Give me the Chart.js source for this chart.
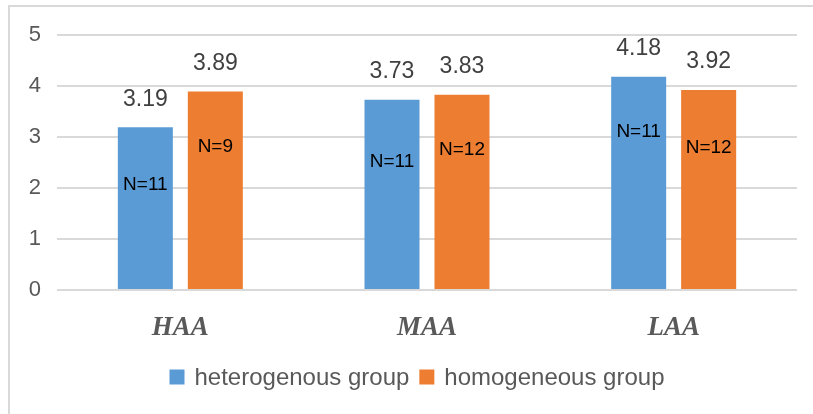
<!DOCTYPE html>
<html>
<head>
<meta charset="utf-8">
<script src="https://cdn.jsdelivr.net/npm/chart.js@4/dist/chart.umd.min.js"></script>
<style>
  html, body { margin: 0; padding: 0; background: #ffffff; }
  #wrap { width: 813px; height: 414px; }
</style>
</head>
<body>
<div id="wrap"><canvas id="chart" width="813" height="414"></canvas></div>
<script>
// Categories and series
const categories = ['HAA', 'MAA', 'LAA'];
const heterogenous = [3.19, 3.73, 4.18];
const homogeneous = [3.89, 3.83, 3.92];
// Group sizes shown inside each bar
const nHeterogenous = [11, 11, 11];
const nHomogeneous = [9, 12, 12];
// Value-axis ticks
const yTicks = [0, 1, 2, 3, 4, 5];

// Where the "N=" notes sit inside the bars, in axis units
const nNoteAtHetero = [2.06, 2.51, 3.11];
const nNoteAtHomo = [2.81, 2.75, 2.79];

const SANS = '"Liberation Sans", Arial, Helvetica, sans-serif';
const SERIF = '"Liberation Serif", "Times New Roman", serif';

// Light frame round the chart plus white background
const framePlugin = {
  id: 'frame',
  beforeDraw(chart) {
    const ctx = chart.ctx;
    ctx.save();
    ctx.fillStyle = '#ffffff';
    ctx.fillRect(0, 0, chart.width, chart.height);
    ctx.strokeStyle = '#d9d9d9';
    ctx.lineWidth = 2;
    ctx.beginPath();
    ctx.moveTo(9, chart.height);
    ctx.lineTo(9, 6);
    ctx.lineTo(chart.width, 6);
    ctx.stroke();
    ctx.restore();
  }
};

// Value above each bar and the N note inside it
const barNotesPlugin = {
  id: 'barNotes',
  afterDatasetsDraw(chart) {
    const ctx = chart.ctx;
    const yScale = chart.scales.y;
    const notes = [
      { counts: nHeterogenous, at: nNoteAtHetero },
      { counts: nHomogeneous, at: nNoteAtHomo }
    ];
    ctx.save();
    ctx.textAlign = 'center';
    ctx.textBaseline = 'middle';
    chart.data.datasets.forEach((ds, di) => {
      const meta = chart.getDatasetMeta(di);
      meta.data.forEach((bar, i) => {
        ctx.font = '23px ' + SANS;
        ctx.fillStyle = '#404040';
        ctx.fillText(ds.data[i].toFixed(2), bar.x, bar.y - 28);
        ctx.font = '19px ' + SANS;
        ctx.fillStyle = '#000000';
        ctx.fillText('N=' + notes[di].counts[i], bar.x, yScale.getPixelForValue(notes[di].at[i]));
      });
    });
    ctx.restore();
  }
};

// Legend row under the axis, centred on the frame
const legendRowPlugin = {
  id: 'legendRow',
  afterDraw(chart) {
    const ctx = chart.ctx;
    const box = 15, gapText = 10, gapItem = 10;
    const centerX = 417, centerY = 377;
    ctx.save();
    ctx.font = '24px ' + SANS;
    ctx.textBaseline = 'middle';
    ctx.textAlign = 'left';
    const items = chart.data.datasets.map(ds => ({
      label: ds.label, color: ds.backgroundColor, w: ctx.measureText(ds.label).width
    }));
    let total = 0;
    items.forEach((it, i) => { total += box + gapText + it.w + (i < items.length - 1 ? gapItem : 0); });
    let x = centerX - total / 2;
    items.forEach(it => {
      ctx.fillStyle = it.color;
      ctx.fillRect(x, centerY - box / 2, box, box);
      x += box + gapText;
      ctx.fillStyle = '#595959';
      ctx.fillText(it.label, x, centerY + 1);
      x += it.w + gapItem;
    });
    ctx.restore();
  }
};

new Chart(document.getElementById('chart'), {
  type: 'bar',
  data: {
    labels: categories,
    datasets: [
      { label: 'heterogenous group', data: heterogenous, backgroundColor: '#5b9bd5',
        categoryPercentage: 0.5675, barPercentage: 0.786 },
      { label: 'homogeneous group', data: homogeneous, backgroundColor: '#ed7d31',
        categoryPercentage: 0.5675, barPercentage: 0.786 }
    ]
  },
  options: {
    responsive: false,
    animation: false,
    devicePixelRatio: 1,
    layout: { padding: { top: 35, left: 0, right: 16, bottom: 74 } },
    plugins: {
      legend: { display: false },
      tooltip: { enabled: false },
      title: { display: false }
    },
    scales: {
      x: {
        grid: { display: false, drawTicks: false },
        border: { display: false },
        ticks: {
          padding: 22,
          color: '#595959',
          font: { family: SERIF, size: 27, weight: 'bold', style: 'italic' }
        },
        afterFit(scale) { scale.height = 50; }
      },
      y: {
        min: 0,
        max: 5,
        afterBuildTicks(scale) { scale.ticks = yTicks.map(v => ({ value: v })); },
        grid: { color: '#d9d9d9', lineWidth: 2, drawTicks: false },
        border: { display: false },
        ticks: {
          padding: 16,
          color: '#595959',
          font: { family: SANS, size: 22 }
        },
        afterFit(scale) { scale.width = 57; }
      }
    }
  },
  plugins: [framePlugin, barNotesPlugin, legendRowPlugin]
});
</script>
</body>
</html>
